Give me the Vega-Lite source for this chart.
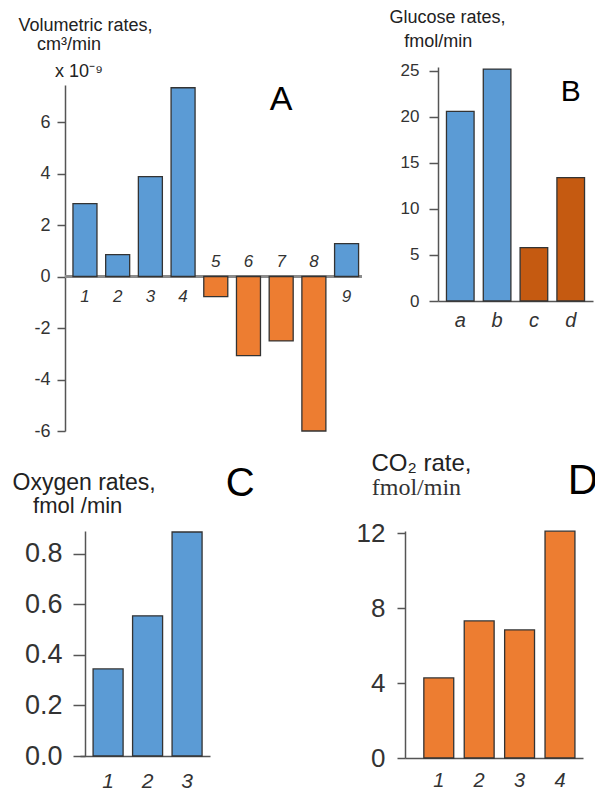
{
  "$schema": "https://vega.github.io/schema/vega-lite/v6.json",
  "padding": {"left": 12, "top": 8, "right": 5, "bottom": 14},
  "config": {
    "view": {"stroke": null},
    "font": "Liberation Sans",
    "text": {"fontWeight": "normal"},
    "axis": {
      "grid": false,
      "domainColor": "#555555",
      "domainWidth": 1.5,
      "tickColor": "#555555",
      "tickWidth": 1.5,
      "labelColor": "#333333",
      "titleColor": "#222222",
      "titleFontWeight": "normal",
      "labelFont": "Liberation Sans",
      "titleFont": "Liberation Sans"
    }
  },
  "resolve": {"scale": {"color": "independent"}},
  "spacing": 11,
  "vconcat": [
    {
      "spacing": 26,
      "resolve": {"scale": {"color": "independent"}},
      "hconcat": [
        {
          "width": 297,
          "height": 364,
          "data": {"values": [
            {"bar": "1", "rate": 2.83, "dir": "up"},
            {"bar": "2", "rate": 0.85, "dir": "up"},
            {"bar": "3", "rate": 3.88, "dir": "up"},
            {"bar": "4", "rate": 7.33, "dir": "up"},
            {"bar": "5", "rate": -0.78, "dir": "down"},
            {"bar": "6", "rate": -3.07, "dir": "down"},
            {"bar": "7", "rate": -2.5, "dir": "down"},
            {"bar": "8", "rate": -6.0, "dir": "down"},
            {"bar": "9", "rate": 1.28, "dir": "up"}
          ]},
          "layer": [
            {
              "mark": {"type": "rule", "color": "#8c8c8c", "strokeWidth": 2},
              "encoding": {"y": {"datum": 0, "type": "quantitative"}}
            },
            {
              "mark": {"type": "bar", "stroke": "#333333", "strokeWidth": 1.3},
              "encoding": {
                "x": {"field": "bar", "type": "nominal", "scale": {"paddingInner": 0.266, "paddingOuter": 0.174, "align": 0.7}, "axis": null},
                "y": {
                  "field": "rate", "type": "quantitative",
                  "scale": {"domain": [-6, 8.136], "nice": false, "zero": false},
                  "axis": {
                    "values": [-6, -4, -2, 0, 2, 4, 6],
                    "labelExpr": "datum.value < 0 ? '-' + abs(datum.value) : datum.label",
                    "domainDash": [346, 1000],
                    "labelFontSize": 18,
                    "tickSize": 8,
                    "labelPadding": 7,
                    "title": "Volumetric rates,",
                    "titleFontSize": 18,
                    "titleAngle": 0,
                    "titleAlign": "left",
                    "titleBaseline": "alphabetic",
                    "titleX": -47,
                    "titleY": -36.5
                  }
                },
                "color": {"field": "dir", "type": "nominal", "scale": {"domain": ["up", "down"], "range": ["#5b9bd5", "#ed7d31"]}, "legend": null}
              }
            },
            {
              "transform": [{"filter": "datum.rate > 0"}],
              "mark": {"type": "text", "dy": 20, "fontStyle": "italic", "fontSize": 17, "color": "#333333"},
              "encoding": {"x": {"field": "bar", "type": "nominal"}, "y": {"datum": 0, "type": "quantitative"}, "text": {"field": "bar"}}
            },
            {
              "transform": [{"filter": "datum.rate < 0"}],
              "mark": {"type": "text", "dy": -15, "fontStyle": "italic", "fontSize": 17, "color": "#333333"},
              "encoding": {"x": {"field": "bar", "type": "nominal"}, "y": {"datum": 0, "type": "quantitative"}, "text": {"field": "bar"}}
            },
            {
              "data": {"values": [{"note": "unit"}]},
              "mark": {"type": "text", "text": "cm³/min", "fontSize": 18, "align": "left", "dx": -48, "color": "#222222"},
              "encoding": {"x": {"datum": "1", "type": "nominal"}, "y": {"datum": 9.0, "type": "quantitative"}}
            },
            {
              "data": {"values": [{"note": "scale"}]},
              "mark": {"type": "text", "text": "x 10⁻⁹", "fontSize": 18, "dx": -6, "color": "#222222"},
              "encoding": {"x": {"datum": "1", "type": "nominal"}, "y": {"datum": 7.96, "type": "quantitative"}}
            },
            {
              "data": {"values": [{"note": "panel"}]},
              "mark": {"type": "text", "text": "A", "fontSize": 34, "color": "#000000"},
              "encoding": {"x": {"datum": "7", "type": "nominal"}, "y": {"datum": 6.87, "type": "quantitative"}}
            }
          ]
        },
        {
          "width": 155,
          "height": 234,
          "data": {"values": [
            {"cond": "a", "rate": 20.6, "grp": "1"},
            {"cond": "b", "rate": 25.2, "grp": "1"},
            {"cond": "c", "rate": 5.8, "grp": "2"},
            {"cond": "d", "rate": 13.4, "grp": "2"}
          ]},
          "layer": [
            {
              "mark": {"type": "bar", "stroke": "#333333", "strokeWidth": 1.3},
              "encoding": {
                "x": {
                  "field": "cond", "type": "nominal",
                  "scale": {"paddingInner": 0.25, "paddingOuter": 0.23},
                  "axis": {"title": null, "labelAngle": 0, "labelFontSize": 20, "labelFontStyle": "italic", "ticks": false, "labelPadding": 9}
                },
                "y": {
                  "field": "rate", "type": "quantitative",
                  "scale": {"domain": [0, 25.43], "nice": false},
                  "axis": {
                    "values": [0, 5, 10, 15, 20, 25],
                    "labelFontSize": 17,
                    "tickSize": 9,
                    "labelPadding": 10,
                    "title": "Glucose rates,",
                    "titleFontSize": 18,
                    "titleAngle": 0,
                    "titleAlign": "left",
                    "titleBaseline": "alphabetic",
                    "titleX": -49,
                    "titleY": -44.5
                  }
                },
                "color": {"field": "grp", "type": "nominal", "scale": {"domain": ["1", "2"], "range": ["#5b9bd5", "#c55a11"]}, "legend": null}
              }
            },
            {
              "data": {"values": [{"note": "unit"}]},
              "mark": {"type": "text", "text": "fmol/min", "fontSize": 18, "align": "left", "dx": -56, "color": "#222222"},
              "encoding": {"x": {"datum": "a", "type": "nominal"}, "y": {"datum": 28.2, "type": "quantitative"}}
            },
            {
              "data": {"values": [{"note": "panel"}]},
              "mark": {"type": "text", "text": "B", "fontSize": 30, "color": "#000000"},
              "encoding": {"x": {"datum": "d", "type": "nominal"}, "y": {"datum": 22.7, "type": "quantitative"}}
            }
          ]
        }
      ]
    },
    {
      "spacing": 101,
      "resolve": {"scale": {"color": "independent"}},
      "hconcat": [
        {
          "width": 145,
          "height": 225,
          "data": {"values": [
            {"n": "1", "rate": 0.345},
            {"n": "2", "rate": 0.555},
            {"n": "3", "rate": 0.887}
          ]},
          "layer": [
            {
              "mark": {"type": "bar", "color": "#5b9bd5", "stroke": "#333333", "strokeWidth": 1.3},
              "encoding": {
                "x": {
                  "field": "n", "type": "nominal",
                  "scale": {"paddingInner": 0.24, "paddingOuter": 0.456, "align": 0.78},
                  "axis": {"title": null, "labelAngle": 0, "labelFontSize": 21, "labelFontStyle": "italic", "ticks": false, "labelPadding": 14, "domainDash": [0, 15, 1000]}
                },
                "y": {
                  "field": "rate", "type": "quantitative",
                  "scale": {"domain": [0, 0.891], "nice": false},
                  "axis": {
                    "values": [0, 0.2, 0.4, 0.6, 0.8],
                    "format": ".1f",
                    "offset": -20,
                    "labelFontSize": 27,
                    "tickSize": 12,
                    "labelPadding": 11,
                    "title": "Oxygen rates,",
                    "titleFontSize": 23,
                    "titleAngle": 0,
                    "titleAlign": "left",
                    "titleBaseline": "alphabetic",
                    "titleX": -73,
                    "titleY": -42
                  }
                }
              }
            },
            {
              "data": {"values": [{"note": "unit"}]},
              "mark": {"type": "text", "text": "fmol /min", "fontSize": 22, "align": "left", "dx": -75, "color": "#222222"},
              "encoding": {"x": {"datum": "1", "type": "nominal"}, "y": {"datum": 0.99, "type": "quantitative"}}
            },
            {
              "data": {"values": [{"note": "panel"}]},
              "mark": {"type": "text", "text": "C", "fontSize": 40, "dx": 53, "color": "#000000"},
              "encoding": {"x": {"datum": "3", "type": "nominal"}, "y": {"datum": 1.077, "type": "quantitative"}}
            }
          ]
        },
        {
          "width": 178,
          "height": 227,
          "data": {"values": [
            {"n": "1", "rate": 4.27},
            {"n": "2", "rate": 7.31},
            {"n": "3", "rate": 6.83},
            {"n": "4", "rate": 12.1}
          ]},
          "layer": [
            {
              "mark": {"type": "bar", "color": "#ed7d31", "stroke": "#333333", "strokeWidth": 1.3},
              "encoding": {
                "x": {
                  "field": "n", "type": "nominal",
                  "scale": {"paddingInner": 0.26, "paddingOuter": 0.333, "align": 0.7},
                  "axis": {"title": null, "labelAngle": 0, "labelFontSize": 20, "labelFontStyle": "italic", "ticks": false, "labelPadding": 12}
                },
                "y": {
                  "field": "rate", "type": "quantitative",
                  "scale": {"domain": [0, 12.107], "nice": false},
                  "axis": {
                    "values": [0, 4, 8, 12],
                    "labelFontSize": 26,
                    "tickSize": 8,
                    "labelPadding": 12,
                    "title": "CO₂ rate,",
                    "titleFontSize": 24,
                    "titleAngle": 0,
                    "titleAlign": "left",
                    "titleBaseline": "alphabetic",
                    "titleX": -34,
                    "titleY": -61
                  }
                }
              }
            },
            {
              "data": {"values": [{"note": "unit"}]},
              "mark": {"type": "text", "text": "fmol/min", "font": "Liberation Serif", "fontSize": 24, "align": "left", "baseline": "alphabetic", "dx": -67, "color": "#333333"},
              "encoding": {"x": {"datum": "1", "type": "nominal"}, "y": {"datum": 14.03, "type": "quantitative"}}
            },
            {
              "data": {"values": [{"note": "panel"}]},
              "mark": {"type": "text", "text": "D", "fontSize": 42, "dx": 23, "color": "#000000"},
              "encoding": {"x": {"datum": "4", "type": "nominal"}, "y": {"datum": 14.77, "type": "quantitative"}}
            }
          ]
        }
      ]
    }
  ]
}
